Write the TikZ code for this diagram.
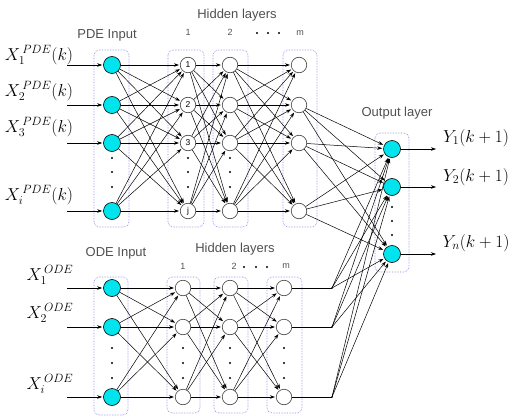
\documentclass[tikz,border=0pt]{standalone}
\usepackage{fontspec}
\setsansfont{Liberation Sans}
\usetikzlibrary{arrows.meta}
\definecolor{cyanfill}{RGB}{0,228,238}
\definecolor{boxblue}{RGB}{130,130,225}
\definecolor{labgray}{RGB}{80,80,80}
\begin{document}
\begin{tikzpicture}[x=1pt,y=-1pt,
  inp/.style={circle,draw=black,fill=cyanfill,line width=0.6pt,minimum size=17pt,inner sep=0pt},
  hid/.style={circle,draw=black!75,fill=white,line width=0.6pt,minimum size=15.5pt,inner sep=0pt,font=\sffamily\fontsize{8.5}{8.5}\selectfont},
  layerbox/.style={draw=boxblue,densely dotted,rounded corners=5pt,line width=0.6pt},
  conn/.style={draw=black,line width=0.5pt,shorten >=1pt,-{Stealth[length=5pt,width=3.5pt]}},
  plain/.style={draw=black,line width=0.5pt},
  ttl/.style={font=\sffamily\fontsize{13}{13}\selectfont,text=labgray},
  num/.style={font=\sffamily\fontsize{9}{9}\selectfont,text=labgray},
  mlab/.style={font=\fontsize{17}{17}\selectfont}
]
\useasboundingbox (0,0) rectangle (519,417);

% ---------- layer boxes ----------
\draw[layerbox] (94,50) rectangle (129,227);
\draw[layerbox] (168,50) rectangle (204,227);
\draw[layerbox] (213,50) rectangle (248,227);
\draw[layerbox] (283,50) rectangle (317,227);
\draw[layerbox] (375,133) rectangle (409,272);
\draw[layerbox] (94,277) rectangle (128,415);
\draw[layerbox] (167,277) rectangle (200,413);
\draw[layerbox] (214,277) rectangle (248,413);
\draw[layerbox] (267,277) rectangle (302,413);

% ---------- titles ----------
\node[ttl] (tpi) at (107,35) {PDE Input};
\node[ttl] (thp) at (237,15) {Hidden layers};
\node[ttl] (tout) at (397,113) {Output layer};
\node[ttl] (toi) at (116,253) {ODE Input};
\node[ttl] (tho) at (235,249) {Hidden layers};
\node[num] (n1p) at (188,32) {1};
\node[num] (n2p) at (230,32) {2};
\node[num] (nmp) at (300,33) {m};
\node[num] (n1o) at (183,266) {1};
\node[num] (n2o) at (234,266) {2};
\node[num] (nmo) at (286,266) {m};
\foreach \x in {257,268,279} \fill (\x,33) circle (1.2pt);
\foreach \x in {244,256,267} \fill (\x,267) circle (1.2pt);

% ---------- PDE nodes ----------
\foreach \y [count=\i] in {65,105,143,211} {
  \node[inp] (pi\i) at (112,\y) {};
  \node[hid] (pb\i) at (230,\y) {};
  \node[hid] (pm\i) at (299,\y) {};
}
\node[hid] (pa1) at (188,65) {1};
\node[hid] (pa2) at (188,105) {2};
\node[hid] (pa3) at (188,143) {3};
\node[hid] (pa4) at (188,211) {j};
\foreach \x in {112,188,230} \foreach \y in {158,172,187} \fill (\x,\y) circle (1.2pt);

% ---------- ODE nodes ----------
\foreach \y [count=\i] in {288,327,397} {
  \node[inp] (oi\i) at (112,\y) {};
  \node[hid] (oa\i) at (183,\y) {};
  \node[hid] (ob\i) at (230,\y) {};
  \node[hid] (om\i) at (284,\y) {};
  \coordinate (oj\i) at (332,\y);
}
\foreach \x in {112,183,230,284} \foreach \y in {348,363,378} \fill (\x,\y) circle (1.2pt);

% ---------- output nodes ----------
\foreach \y [count=\i] in {149,187,254} {
  \node[inp] (out\i) at (392,\y) {};
  \coordinate (ye\i) at (437,\y);
  \draw[conn] (out\i) -- (ye\i);
}
\foreach \y in {207,221,235} \fill (392,\y) circle (1.2pt);

% ---------- input labels / arrows ----------
\node[mlab] (lp1) at (39,55) {$X_1^{\,PDE}(k)$};
\node[mlab] (lp2) at (39,91) {$X_2^{\,PDE}(k)$};
\node[mlab] (lp3) at (39,127) {$X_3^{\,PDE}(k)$};
\node[mlab] (lp4) at (39,195) {$X_i^{\,PDE}(k)$};
\node[mlab] (lo1) at (50,275) {$X_1^{\,ODE}$};
\node[mlab] (lo2) at (50,313) {$X_2^{\,ODE}$};
\node[mlab] (lo3) at (50,384) {$X_i^{\,ODE}$};
\foreach \y [count=\i] in {65,105,143,211} {
  \coordinate (ps\i) at (67,\y);
  \draw[conn] (ps\i) -- (pi\i);
}
\foreach \y [count=\i] in {288,327,397} {
  \coordinate (os\i) at (67,\y);
  \draw[conn] (os\i) -- (oi\i);
}
\node[mlab] (ly1) at (476,138) {$Y_1(k+1)$};
\node[mlab] (ly2) at (476,177) {$Y_2(k+1)$};
\node[mlab] (ly3) at (476,243) {$Y_n(k+1)$};

% ---------- PDE connections ----------
\foreach \i in {1,...,4} \foreach \j in {1,...,4} {
  \draw[conn] (pi\i) -- (pa\j);
  \draw[conn] (pa\i) -- (pb\j);
  \draw[conn] (pb\i) -- (pm\j);
}
\foreach \i in {2,3,4} \foreach \k in {1,2,3} \draw[conn] (pm\i) -- (out\k);

% ---------- ODE connections ----------
\foreach \i in {1,2,3} \foreach \j in {1,2,3} {
  \draw[conn] (oi\i) -- (oa\j);
  \draw[conn] (oa\i) -- (ob\j);
  \draw[conn] (ob\i) -- (om\j);
}
\foreach \i in {1,2,3} {
  \draw[plain] (om\i) -- (oj\i);
  \fill (oj\i) circle (0.8pt);
  \foreach \k in {1,2,3} \draw[conn] (oj\i) -- (out\k);
}
\end{tikzpicture}
\end{document}
